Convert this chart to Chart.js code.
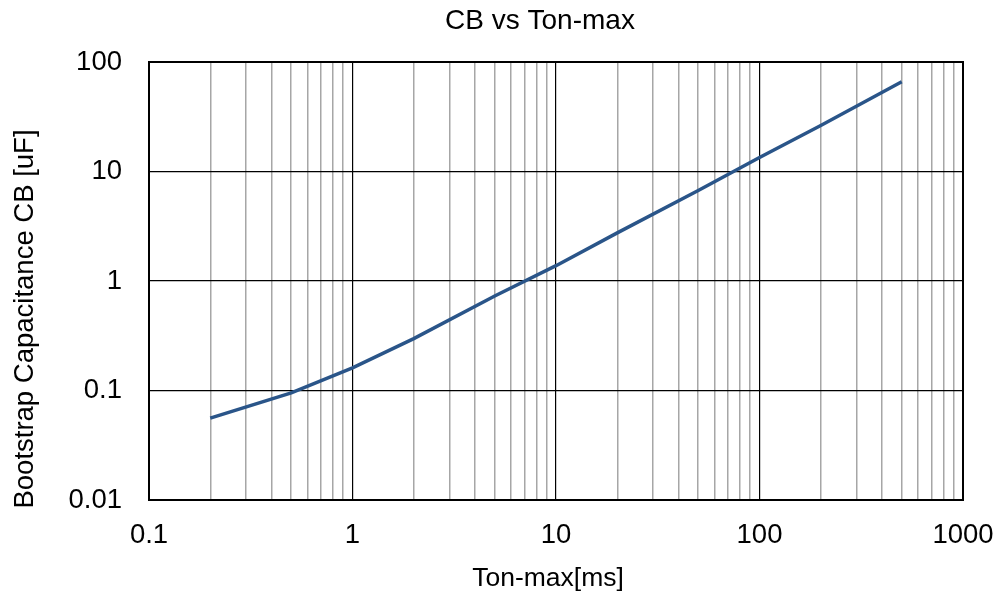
<!DOCTYPE html>
<html>
<head>
<meta charset="utf-8">
<title>CB vs Ton-max</title>
<script src="https://cdn.jsdelivr.net/npm/chart.js@4"></script>
<style>
  body { margin: 0; background: #fff; }
  #wrap { width: 1002px; height: 601px; }
</style>
</head>
<body>
<div id="wrap"><canvas id="myChart" width="1002" height="601"></canvas></div>
<script>
// data
const tonMax = [0.2, 0.5, 1, 2, 5, 10, 20, 50, 100, 200, 500];
const cbValues = [0.056, 0.095, 0.161, 0.298, 0.73, 1.38, 2.75, 6.7, 13.4, 26.3, 66];

const xDecades = [0.1, 1, 10, 100, 1000];
const xLabels = ['0.1', '1', '10', '100', '1000'];
const yDecades = [0.01, 0.1, 1, 10, 100];
const yLabels = ['0.01', '0.1', '1', '10', '100'];
const minorSteps = [2, 3, 4, 5, 6, 7, 8, 9];

const chartTitle = 'CB vs Ton-max';
const xTitle = 'Ton-max[ms]';
const yTitle = 'Bootstrap Capacitance CB [uF]';

const FONT = "'Liberation Sans', Arial, sans-serif";

// tick positions for the x axis: every decade plus the 2..9 minors
const xTickVals = [];
xDecades.forEach((d, i) => {
    xTickVals.push(d);
    if (i < xDecades.length - 1) {
        minorSteps.forEach(m => xTickVals.push(+(d * m).toPrecision(6)));
    }
});

const isDecade = (list, v) => list.some(d => Math.abs(d - v) / d < 1e-6);
const labelFor = (list, labels, v) => {
    const i = list.findIndex(d => Math.abs(d - v) / d < 1e-6);
    return i >= 0 ? labels[i] : '';
};

const frameAndText = {
    id: 'frameAndText',
    afterDraw(chart) {
        const ctx = chart.ctx;
        const a = chart.chartArea;
        ctx.save();
        ctx.strokeStyle = '#000';
        ctx.lineWidth = 2;
        ctx.strokeRect(a.left, a.top, a.right - a.left, a.bottom - a.top);

        ctx.fillStyle = '#000';
        ctx.textAlign = 'center';
        ctx.textBaseline = 'middle';
        ctx.font = '28px ' + FONT;
        ctx.fillText(chartTitle, 540, 21);
        ctx.font = '26.5px ' + FONT;
        ctx.fillText(xTitle, 548, 579);

        ctx.font = '27.5px ' + FONT;
        ctx.translate(25, 319);
        ctx.rotate(-Math.PI / 2);
        ctx.fillText(yTitle, 0, 0);
        ctx.restore();
    }
};

const ctx = document.getElementById('myChart').getContext('2d');
const myChart = new Chart(ctx, {
    type: 'line',
    data: {
        datasets: [{
            label: 'CB',
            data: tonMax.map((t, i) => ({ x: t, y: cbValues[i] })),
            borderColor: '#2A5589',
            borderWidth: 3.5,
            pointRadius: 0,
            tension: 0,
            fill: false
        }]
    },
    options: {
        responsive: false,
        animation: false,
        devicePixelRatio: 1,
        layout: { padding: { top: 62, right: 39, left: 0, bottom: 0 } },
        plugins: {
            legend: { display: false },
            title: { display: false },
            tooltip: { enabled: false }
        },
        scales: {
            x: {
                type: 'logarithmic',
                min: 0.1,
                max: 1000,
                afterBuildTicks: (scale) => {
                    scale.ticks = xTickVals.map(v => ({ value: v }));
                },
                afterFit: (scale) => {
                    scale.height = 101;
                    scale.paddingLeft = 0;
                    scale.paddingRight = 0;
                },
                grid: {
                    drawTicks: false,
                    color: (c) => isDecade(xDecades, c.tick.value) ? '#000' : '#a6a6a6',
                    lineWidth: (c) => isDecade(xDecades, c.tick.value) ? 1.2 : 1.5
                },
                border: { display: false },
                ticks: {
                    autoSkip: false,
                    maxRotation: 0,
                    padding: 19,
                    color: '#000',
                    font: { family: FONT, size: 27.5 },
                    callback: (v) => labelFor(xDecades, xLabels, v)
                }
            },
            y: {
                type: 'logarithmic',
                min: 0.01,
                max: 100,
                afterBuildTicks: (scale) => {
                    scale.ticks = yDecades.map(v => ({ value: v }));
                },
                afterFit: (scale) => {
                    scale.width = 149;
                    scale.paddingTop = 0;
                    scale.paddingBottom = 0;
                },
                grid: {
                    drawTicks: false,
                    color: '#000',
                    lineWidth: 1.2
                },
                border: { display: false },
                ticks: {
                    autoSkip: false,
                    padding: 27,
                    color: '#000',
                    font: { family: FONT, size: 27.5 },
                    callback: (v) => labelFor(yDecades, yLabels, v)
                }
            }
        }
    },
    plugins: [frameAndText]
});
</script>
</body>
</html>
